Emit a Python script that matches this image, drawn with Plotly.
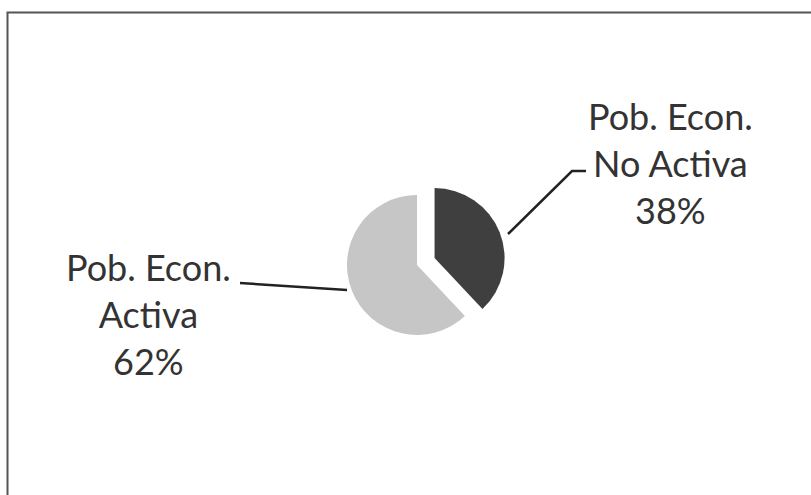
import plotly.graph_objects as go

labels = ["Pob. Econ.<br>No Activa", "Pob. Econ.<br>Activa"]
values = [38, 62]
colors = ["#3f3f3f", "#c6c6c6"]
pulls = [0.27, 0]

W, H = 811, 495
total = sum(values)
pcts = [f"{round(v / total * 100)}%" for v in values]

cx, cy, r = 417, 265, 70
half = r * (1 + max(pulls))

fig = go.Figure(go.Pie(
    labels=labels, values=values, sort=False, direction="clockwise", rotation=0,
    pull=pulls, marker=dict(colors=colors, line=dict(color="white", width=0)),
    textinfo="none", hoverinfo="label+percent", showlegend=False,
    domain=dict(x=[(cx - half) / W, (cx + half) / W], y=[1 - (cy + half) / H, 1 - (cy - half) / H]),
))

font = dict(family="Lato, Carlito, sans-serif", size=36, color="#333333")
label_pos = [(670, 163), (148, 314)]
for lab, pct, (x, y) in zip(labels, pcts, label_pos):
    fig.add_annotation(x=x / W, y=1 - y / H, xref="paper", yref="paper",
                       text=f"{lab}<br>{pct}", showarrow=False, font=font,
                       xanchor="center", yanchor="middle", align="center")

def P(x, y):
    return f"{x / W} {1 - y / H}"

leaders = [[(586, 171), (572, 171), (508, 234)], [(240, 283), (347, 290)]]
for pts in leaders:
    path = "M " + " L ".join(P(x, y) for x, y in pts)
    fig.add_shape(type="path", path=path, xref="paper", yref="paper",
                  line=dict(color="#222222", width=2.5))

# chart border (top and left visible)
fig.add_shape(type="path", xref="paper", yref="paper",
              path=f"M {P(7.5, 500)} L {P(7.5, 12.5)} L {P(820, 12.5)}",
              line=dict(color="#555555", width=2))

fig.update_layout(width=W, height=H, margin=dict(l=0, r=0, t=0, b=0),
                  paper_bgcolor="white", plot_bgcolor="white")
fig.write_html("out.html", config={"displayModeBar": False},
               post_script="document.body.style.margin='0';")
